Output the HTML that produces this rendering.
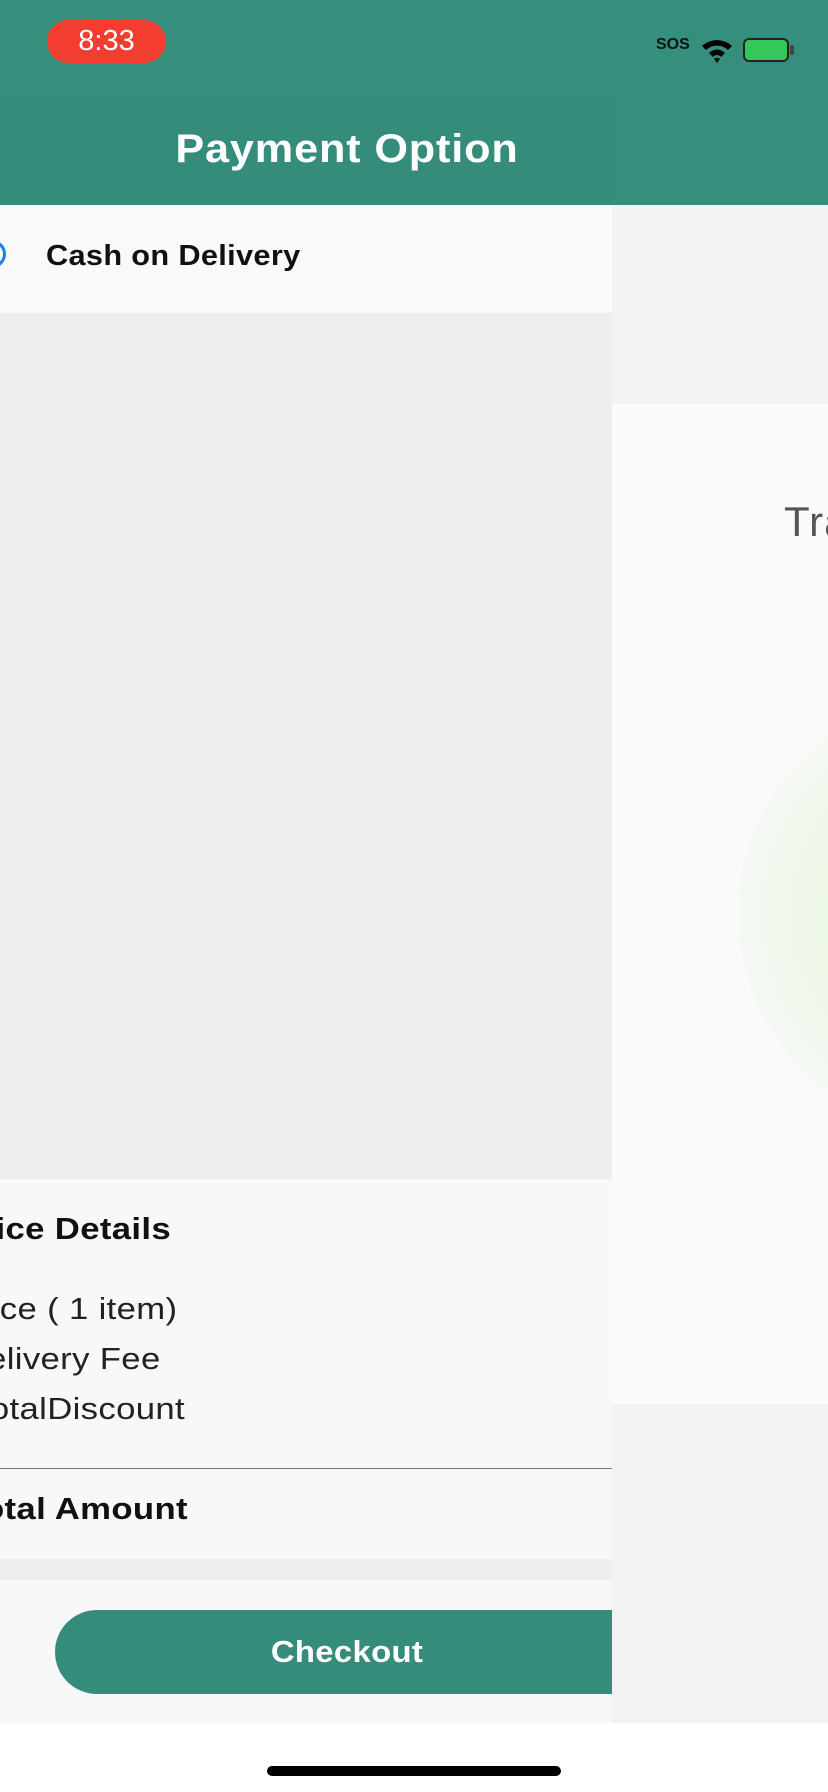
<!DOCTYPE html>
<html><head><meta charset="utf-8"><style>
*{margin:0;padding:0;box-sizing:border-box}
body{width:828px;height:1792px;position:relative;overflow:hidden;background:#fff;font-family:"Liberation Sans",sans-serif}
.a{position:absolute}
.r{position:absolute;white-space:nowrap;text-align:right;font-size:31px;letter-spacing:0.3px;transform:scaleX(1.12);transform-origin:right center}
</style></head><body>
<div class="a" style="left:0;top:0;width:828px;height:96px;background:#358f7c"></div>
<div class="a" style="left:47px;top:20px;width:119px;height:43px;border-radius:22px;background:#f23d30;color:#fff;font-size:29px;line-height:43px;text-align:center">8:33</div>
<div class="a" style="left:656px;top:36px;font-size:16px;font-weight:bold;color:#111">SOS</div>
<svg class="a" style="left:700px;top:36px" width="34" height="28" viewBox="0 0 34 28"><path d="M2 10 A22 22 0 0 1 32 10 L28 14 A16 16 0 0 0 6 14Z M9 17 A11 11 0 0 1 25 17 L21 21 A5 5 0 0 0 13 21Z M14 23 L17 27 L20 23 A4 4 0 0 0 14 23Z" fill="#000"/></svg>
<div class="a" style="left:743px;top:38px;width:46px;height:24px;border:2px solid #222;border-radius:6px;background:#34c759"></div>
<div class="a" style="left:790px;top:45px;width:4px;height:10px;background:#444;border-radius:2px"></div>
<div class="a" style="left:612px;top:96px;width:216px;height:109px;background:#358f7c"></div>
<div class="a" style="left:612px;top:205px;width:216px;height:199px;background:#f2f2f2"></div>
<div class="a" style="left:612px;top:404px;width:216px;height:1000px;background:#fafafa;overflow:hidden">
 <div class="a" style="left:172px;top:94px;font-size:42px;color:#555;white-space:nowrap;letter-spacing:1px">Transaction</div>
 <div class="a" style="left:126px;top:290px;width:440px;height:440px;border-radius:50%;background:radial-gradient(circle,#e8f6de 0%,#eef7e9 50%,#f5f8f3 70%,#fafafa 78%)"></div>
</div>
<div class="a" style="left:612px;top:1404px;width:216px;height:319px;background:#f2f2f2"></div>
<div class="a" style="left:0;top:96px;width:612px;height:1627px;background:#ededed;overflow:hidden">
 <div class="a" style="left:0;top:0;width:612px;height:109px;background:#358c7a"></div>
 <div class="a" style="left:347px;top:31px;transform:translateX(-50%) scaleX(1.08);color:#fff;font-size:40px;font-weight:bold;letter-spacing:0.8px;white-space:nowrap">Payment Option</div>
 <div class="a" style="left:0;top:109px;width:612px;height:108px;background:#f9f9f9">
  <div class="a" style="left:-22px;top:35px;width:28px;height:28px;border:3px solid #1a7cf5;border-radius:50%"></div>
  <div class="a" style="left:46px;top:35px;font-size:29px;font-weight:bold;color:#111;letter-spacing:0.3px;white-space:nowrap;transform:scaleX(1.06);transform-origin:left center">Cash on Delivery</div>
 </div>
 <div class="a" style="left:0;top:1083px;width:612px;height:380px;background:#f8f8f8">
  <div class="r" style="right:441px;top:32px;font-weight:bold;color:#111">Price Details</div>
  <div class="r" style="right:435px;top:112px;color:#222">Price ( 1 item)</div>
  <div class="r" style="right:451px;top:162px;color:#222">Delivery Fee</div>
  <div class="r" style="right:427px;top:212px;color:#222">TotalDiscount</div>
  <div class="a" style="left:0;top:289px;width:612px;height:1px;background:#777"></div>
  <div class="r" style="right:424px;top:312px;font-weight:bold;color:#111">Total Amount</div>
 </div>
 <div class="a" style="left:0;top:1484px;width:612px;height:143px;background:#f8f8f8">
  <div class="a" style="left:55px;top:30px;width:600px;height:84px;border-radius:42px;background:#358c7a"></div>
  <div class="a" style="left:347px;top:30px;transform:translateX(-50%) scaleX(1.06);color:#fff;font-size:31px;font-weight:bold;line-height:84px;letter-spacing:0.3px">Checkout</div>
 </div>
</div>
<div class="a" style="left:267px;top:1766px;width:294px;height:10px;border-radius:5px;background:#000"></div>
</body></html>
